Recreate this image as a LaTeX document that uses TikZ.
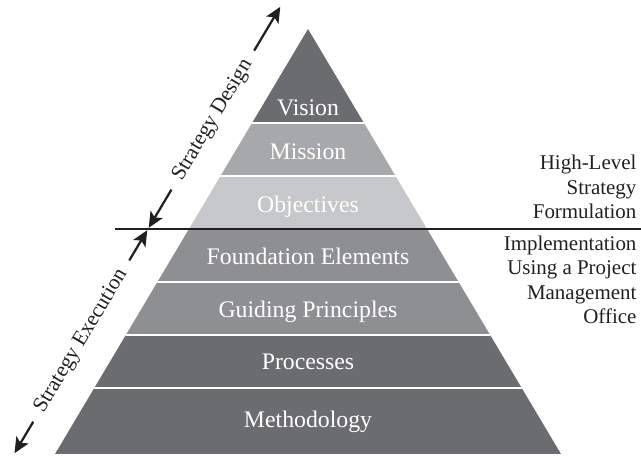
\documentclass[tikz,border=0pt]{standalone}
\usepackage{fontspec}
\setmainfont{Liberation Serif}
\usetikzlibrary{arrows.meta, positioning, calc}
\definecolor{layerdark}{HTML}{6B6C6F}
\definecolor{layermid}{HTML}{8E8F92}
\definecolor{layerlight}{HTML}{A7A8AA}
\definecolor{layerpale}{HTML}{C6C7C9}
\definecolor{inkblack}{HTML}{231F20}

\begin{document}
\begin{tikzpicture}[
    layer/.style={font=\fontsize{16.9}{20}\selectfont, text=white, anchor=base, inner sep=0pt},
    side/.style={font=\fontsize{14.9}{17.2}\selectfont, text=inkblack, align=right, anchor=base east, inner sep=0pt},
    phase/.style={font=\fontsize{15.2}{17.2}\selectfont, text=inkblack, sloped, inner xsep=0.3cm, inner ysep=0pt},
    span/.style={-{Stealth[length=11pt, width=10pt, inset=2.5pt]}, line width=1.6pt, draw=inkblack},
]

\useasboundingbox (-7.7, -0.1) rectangle (8.325, 11.35);

% Pyramid corners
\coordinate (apex) at (0, 10.625);
\coordinate (bl) at (-6.325, 0);
\coordinate (br) at (6.325, 0);

% Bands, bottom to top
\begin{scope}
\clip (bl) -- (apex) -- (br) -- cycle;
\fill[layerdark] (-7, 0) rectangle (7, 2.975);
\fill[layermid] (-7, 2.975) rectangle (7, 5.625);
\fill[layerpale] (-7, 5.625) rectangle (7, 6.95);
\fill[layerlight] (-7, 6.95) rectangle (7, 8.275);
\fill[layerdark] (-7, 8.275) rectangle (7, 11);
\foreach \y in {1.65, 2.975, 4.3, 6.95, 8.275}
    \draw[white, line width=1.8pt] (-7, \y) -- (7, \y);
\end{scope}

% Band labels
\node[layer] (vision) at (0, 8.4575) {Vision};
\node[layer] (mission) at (0, 7.375) {Mission};
\node[layer] (objectives) at (0, 6.05) {Objectives};
\node[layer] (foundation) at (0, 4.75) {Foundation Elements};
\node[layer] (guiding) at (0, 3.425) {Guiding Principles};
\node[layer] (processes) at (0, 2.125) {Processes};
\node[layer] (methodology) at (0, 0.675) {Methodology};

% Divider
\coordinate (divl) at (-4.825, 5.625);
\coordinate (divr) at (8.325, 5.625);
\draw[inkblack, line width=1.85pt] (divl) -- (divr);

% Side notes (base = last line)
\node[side] (formulation) at (8.2175, 5.8925) {High-Level\\Strategy\\Formulation};
\node[side] (implementation) at (8.2175, 3.2675) {Implementation\\Using a Project\\Management\\Office};

% Design / execution arrows
\coordinate (mid) at (-4.0, 5.625);
\coordinate (top) at (-0.693, 11.18);
\coordinate (bot) at (-7.337, 0.02);
\path (mid) -- (top) node[phase, pos=0.49] (design) {Strategy Design};
\path (bot) -- (mid) node[phase, pos=0.5] (execution) {Strategy Execution};
\draw[span] (design.east) -- (top);
\draw[span, shorten >=1pt] (design.west) -- (mid);
\draw[span, shorten >=1pt] (execution.east) -- (mid);
\draw[span] (execution.west) -- (bot);

\end{tikzpicture}
\end{document}
